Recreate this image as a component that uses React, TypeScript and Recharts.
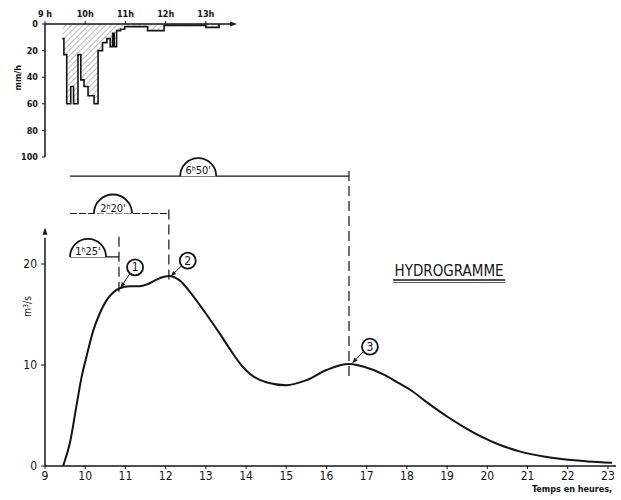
import React from "react";
import {
  Area,
  ComposedChart,
  Line,
  ReferenceDot,
  ReferenceLine,
  XAxis,
  YAxis,
} from "recharts";

// hydrogramme : debit (m3/s) en fonction de l'heure
const flowTime = [
  9.45, 9.62, 9.78, 9.91, 10.03, 10.2, 10.36, 10.53, 10.7, 10.86, 11.1, 11.35,
  11.55, 11.8, 12.08, 12.34, 12.67, 13.0, 13.33, 13.66, 13.9, 14.1, 14.5, 15.0,
  15.5, 16.0, 16.55, 17.1, 17.4, 17.8, 18.1, 18.5, 19.0, 19.4, 19.85, 20.3,
  20.8, 21.4, 21.9, 22.5, 23.1,
];
const flowValue = [
  0, 2.3, 5.9, 8.8, 10.8, 13.4, 15.1, 16.4, 17.2, 17.6, 17.8, 17.8, 18.0, 18.5,
  18.8, 18.4, 16.9, 15.1, 13.2, 11.2, 9.9, 9.1, 8.3, 8.0, 8.5, 9.5, 10.1, 9.6,
  9.1, 8.2, 7.5, 6.3, 4.9, 3.9, 2.9, 2.1, 1.45, 0.95, 0.66, 0.45, 0.33,
];
const hourTicks = [9, 10, 11, 12, 13, 14, 15, 16, 17, 18, 19, 20, 21, 22, 23];
const flowTicks = [0, 10, 20];

// hyetogramme : intensite de pluie (mm/h), en paliers
const rainTime = [
  9.43, 9.47, 9.54, 9.64, 9.71, 9.82, 9.89, 9.97, 10.07, 10.22, 10.32, 10.43,
  10.54, 10.62, 10.68, 10.72, 10.78, 10.88, 10.98, 11.55, 11.96, 13.0, 13.33,
];
const rainRate = [
  11, 23, 60, 47, 60, 23, 42, 47, 54, 60, 20, 14, 11, 17, 7, 17, 5, 4, 2, 5, 1,
  2.5, 0,
];
const rainHourTicks = [9, 10, 11, 12, 13];
const rainTicks = [0, 20, 40, 60, 80, 100];

const flowData = flowTime.map((t, i) => ({ t, q: flowValue[i] }));
const rainData = rainTime.map((t, i) => ({ t, r: rainRate[i] }));

const INK = "#141414";
const FONT = "'DejaVu Sans Condensed', 'Liberation Sans Narrow', sans-serif";

const domeShape = (h: string, m: string, r: number) => (p: any) => (
  <g>
    <path
      d={`M${p.cx - r},${p.cy} A${r},${r} 0 0 1 ${p.cx + r},${p.cy}`}
      fill="#fff"
      stroke={INK}
      strokeWidth={1.8}
    />
    <text
      x={p.cx}
      y={p.cy - 2}
      textAnchor="middle"
      fontSize={11}
      fontFamily={FONT}
      fill={INK}
    >
      {h}
      <tspan dy={-3} fontSize={7}>
        h
      </tspan>
      <tspan dy={3}>{m}'</tspan>
    </text>
  </g>
);

const markShape =
  (n: string, x1: number, y1: number, x2: number, y2: number) => (p: any) => {
    const a = Math.atan2(y2 - y1, x2 - x1);
    const ex = p.cx + x2;
    const ey = p.cy + y2;
    const l = 5;
    const w = 2.2;
    const pts = [
      [ex, ey],
      [ex - l * Math.cos(a) - w * Math.sin(a), ey - l * Math.sin(a) + w * Math.cos(a)],
      [ex - l * Math.cos(a) + w * Math.sin(a), ey - l * Math.sin(a) - w * Math.cos(a)],
    ]
      .map((v) => v.join(","))
      .join(" ");
    return (
      <g>
        <circle cx={p.cx} cy={p.cy} r={8} fill="#fff" stroke={INK} strokeWidth={1.8} />
        <text
          x={p.cx}
          y={p.cy + 4}
          textAnchor="middle"
          fontSize={12}
          fontFamily={FONT}
          fill={INK}
        >
          {n}
        </text>
        <line
          x1={p.cx + x1}
          y1={p.cy + y1}
          x2={ex}
          y2={ey}
          stroke={INK}
          strokeWidth={1}
        />
        <polygon points={pts} fill={INK} />
      </g>
    );
  };

const upArrow = (p: any) => (
  <polygon
    points={`${p.cx},${p.cy - 6} ${p.cx - 2.5},${p.cy + 1} ${p.cx + 2.5},${p.cy + 1}`}
    fill={INK}
  />
);

const rightArrow = (p: any) => (
  <polygon
    points={`${p.cx + 7},${p.cy} ${p.cx},${p.cy - 2.5} ${p.cx},${p.cy + 2.5}`}
    fill={INK}
  />
);

const titleShape = (p: any) => (
  <g>
    <text
      x={p.cx}
      y={p.cy + 6}
      textAnchor="middle"
      fontSize={15}
      fontFamily={FONT}
      fill={INK}
    >
      HYDROGRAMME
    </text>
    <line x1={p.cx - 56} x2={p.cx + 56} y1={p.cy + 10} y2={p.cy + 10} stroke={INK} strokeWidth={1.4} />
    <line x1={p.cx - 56} x2={p.cx + 56} y1={p.cy + 12.5} y2={p.cy + 12.5} stroke={INK} strokeWidth={0.7} />
  </g>
);

const unitShape = (p: any) => (
  <text
    x={p.cx - 14}
    y={p.cy}
    transform={`rotate(-90 ${p.cx - 14} ${p.cy})`}
    textAnchor="middle"
    fontSize={10}
    fontFamily={FONT}
    fill={INK}
  >
    m
    <tspan dy={-3} fontSize={7}>
      3
    </tspan>
    <tspan dy={3}>/s</tspan>
  </text>
);

const tickStyle = { fontSize: 12, fontFamily: FONT, fill: INK };
const smallTick = { fontSize: 9, fontFamily: FONT, fill: INK, fontWeight: 700 };

export default function App() {
  return (
    <div
      style={{
        position: "absolute",
        left: 0,
        top: 0,
        width: 621,
        height: 500,
        background: "#fff",
      }}
    >
      <div style={{ position: "absolute", left: 0, top: 0 }}>
        <ComposedChart
          width={621}
          height={500}
          data={flowData}
          margin={{ top: 163, right: 5, bottom: 10, left: 0 }}
        >
          <XAxis
            dataKey="t"
            type="number"
            domain={[9, 23.2]}
            ticks={hourTicks}
            allowDataOverflow
            height={24}
            tick={tickStyle}
            tickSize={3}
            tickMargin={2}
            axisLine={{ stroke: INK, strokeWidth: 1.5 }}
            tickLine={{ stroke: INK }}
          />
          <YAxis
            type="number"
            domain={[0, 30]}
            ticks={flowTicks}
            width={45}
            tick={tickStyle}
            tickSize={4}
            tickMargin={4}
            axisLine={false}
            tickLine={{ stroke: INK }}
          />
          <ReferenceLine
            segment={[
              { x: 9, y: 0 },
              { x: 9, y: 22.6 },
            ]}
            stroke={INK}
            strokeWidth={1.5}
          />
          <ReferenceDot x={9} y={23} r={3} shape={upArrow} />
          <ReferenceDot x={9} y={15.8} r={3} shape={unitShape} />

          {/* cotes de temps */}
          <ReferenceLine
            segment={[
              { x: 9.62, y: 28.7 },
              { x: 16.56, y: 28.7 },
            ]}
            stroke={INK}
            strokeWidth={1.2}
          />
          <ReferenceLine
            segment={[
              { x: 9.62, y: 25 },
              { x: 12.08, y: 25 },
            ]}
            stroke={INK}
            strokeWidth={1.2}
            strokeDasharray="7 2"
          />
          <ReferenceLine
            segment={[
              { x: 9.62, y: 20.7 },
              { x: 10.84, y: 20.7 },
            ]}
            stroke={INK}
            strokeWidth={1.2}
          />
          <ReferenceLine
            segment={[
              { x: 10.84, y: 22.7 },
              { x: 10.84, y: 17.0 },
            ]}
            stroke={INK}
            strokeWidth={1.2}
            strokeDasharray="10 5"
          />
          <ReferenceLine
            segment={[
              { x: 12.08, y: 25.4 },
              { x: 12.08, y: 18.0 },
            ]}
            stroke={INK}
            strokeWidth={1.2}
            strokeDasharray="10 5"
          />
          <ReferenceLine
            segment={[
              { x: 16.56, y: 29.2 },
              { x: 16.56, y: 8.8 },
            ]}
            stroke={INK}
            strokeWidth={1.2}
            strokeDasharray="10 5"
          />
          <ReferenceDot x={12.81} y={28.7} r={18} shape={domeShape("6", "50", 18)} />
          <ReferenceDot x={10.69} y={25} r={19} shape={domeShape("2", "20", 19)} />
          <ReferenceDot x={10.07} y={20.7} r={18} shape={domeShape("1", "25", 18)} />

          <Line
            dataKey="q"
            type="monotone"
            stroke={INK}
            strokeWidth={2}
            dot={false}
            isAnimationActive={false}
          />

          <ReferenceDot x={11.24} y={19.67} r={8} shape={markShape("1", -5, 6, -14.3, 20)} />
          <ReferenceDot x={12.55} y={20.33} r={8} shape={markShape("2", -6, 5, -16.7, 15.3)} />
          <ReferenceDot x={17.08} y={11.81} r={8} shape={markShape("3", -6, 4.5, -17.3, 16)} />
          <ReferenceDot x={19.05} y={19.4} r={8} shape={titleShape} />
        </ComposedChart>
      </div>

      <div style={{ position: "absolute", left: 0, top: 0 }}>
        <ComposedChart
          width={240}
          height={165}
          data={rainData}
          margin={{ top: 4, right: 10, bottom: 8, left: 0 }}
        >
          <defs>
            <pattern
              id="hatch"
              patternUnits="userSpaceOnUse"
              width={4}
              height={4}
              patternTransform="rotate(45)"
            >
              <line x1={0} y1={0} x2={0} y2={4} stroke="#555" strokeWidth={0.8} />
            </pattern>
          </defs>
          <XAxis
            dataKey="t"
            type="number"
            orientation="top"
            domain={[9, 13.6]}
            ticks={rainHourTicks}
            allowDataOverflow
            height={20}
            tick={smallTick}
            tickFormatter={(v: number) => (v === 9 ? "9 h" : `${v}h`)}
            tickSize={3}
            tickMargin={4}
            axisLine={{ stroke: INK, strokeWidth: 1.5 }}
            tickLine={{ stroke: INK }}
          />
          <YAxis
            type="number"
            reversed
            domain={[0, 100]}
            ticks={rainTicks}
            width={45}
            tick={smallTick}
            tickSize={3}
            tickMargin={4}
            axisLine={{ stroke: INK, strokeWidth: 1.5 }}
            tickLine={{ stroke: INK }}
            label={{
              value: "mm/h",
              angle: -90,
              position: "insideLeft",
              offset: 18,
              style: { fontSize: 9, fontFamily: FONT, fill: INK, fontWeight: 700 },
            }}
          />
          <Area
            dataKey="r"
            type="stepAfter"
            baseValue={0}
            stroke={INK}
            strokeWidth={1.6}
            fill="url(#hatch)"
            fillOpacity={1}
            isAnimationActive={false}
          />
          <ReferenceDot x={13.6} y={0} r={3} shape={rightArrow} />
        </ComposedChart>
      </div>

      <div
        style={{
          position: "absolute",
          left: 532,
          top: 484,
          fontSize: 9,
          fontFamily: FONT,
          fontWeight: 700,
          color: INK,
          whiteSpace: "nowrap",
        }}
      >
        Temps en heures,
      </div>
    </div>
  );
}
